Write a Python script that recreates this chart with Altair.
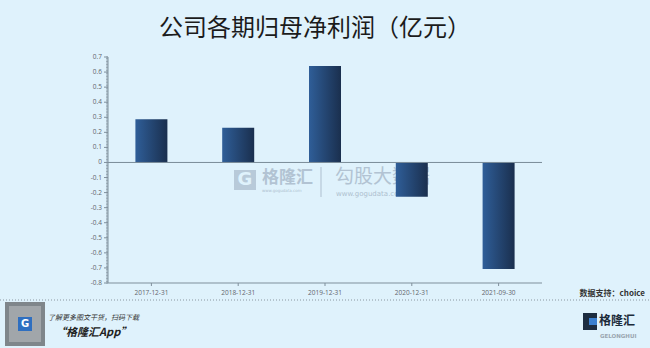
import altair as alt
import pandas as pd
import numpy as np

# ---- data ----
periods = ["2017-12-31", "2018-12-31", "2019-12-31", "2020-12-31", "2021-09-30"]
profits = [0.287, 0.231, 0.64, -0.227, -0.707]
y_major = [-0.8, -0.7, -0.6, -0.5, -0.4, -0.3, -0.2, -0.1, 0, 0.1, 0.2, 0.3, 0.4, 0.5, 0.6, 0.7]
y_labels = ["-0.8", "-0.7", "-0.6", "-0.5", "-0.4", "-0.3", "-0.2", "-0.1", "0",
            "0.1", "0.2", "0.3", "0.4", "0.5", "0.6", "0.7"]
y_minor = [round(v, 2) for v in np.arange(-80, 71) / 100.0]

title_text = "公司各期归母净利润（亿元）"
source_text = "数据支持：choice"
footer_line1 = "了解更多图文干货，扫码下载"
footer_line2 = "“格隆汇App”"

BG = "#dff2fc"
W, H = 434, 226
L, T = 108, 57

df = pd.DataFrame({"period": periods, "profit": profits})
AX = "#7f8f9b"
LAB = "#5f666c"

grad = alt.Gradient(
    gradient="linear",
    stops=[alt.GradientStop(color="#2f5e98", offset=0),
           alt.GradientStop(color="#1a2f4e", offset=1)],
    x1=0, x2=1, y1=0, y2=0,
)

yscale = alt.Scale(domain=[-0.8, 0.7], nice=False, zero=False)
xscale = alt.Scale(domain=periods, paddingInner=0, paddingOuter=0)

def txt(s, x, y, size, color="#222", weight="normal", style="normal",
        align="center", font="Noto Sans CJK SC", opacity=1.0, baseline="middle"):
    return alt.Chart(pd.DataFrame({"t": [s]})).mark_text(
        fontSize=size, color=color, fontWeight=weight, fontStyle=style,
        align=align, baseline=baseline, font=font, opacity=opacity,
    ).encode(x=alt.value(x - L), y=alt.value(y - T), text="t:N")

def rect(x, x2, y, y2, color, opacity=1.0):
    return alt.Chart(pd.DataFrame({"a": [0]})).mark_rect(color=color, opacity=opacity).encode(
        x=alt.value(x - L), x2=alt.value(x2 - L), y=alt.value(y - T), y2=alt.value(y2 - T))

def rule(x, x2, y, y2, color, width=1, dash=None):
    kw = dict(color=color, strokeWidth=width)
    if dash:
        kw["strokeDash"] = dash
    return alt.Chart(pd.DataFrame({"a": [0]})).mark_rule(**kw).encode(
        x=alt.value(x - L), x2=alt.value(x2 - L), y=alt.value(y - T), y2=alt.value(y2 - T))

wm = "#aebfcf"
watermark = [
    rect(234, 256, 170, 190, wm, 0.8),
    txt("G", 245, 180, 18, BG, weight="bold", font="DejaVu Sans"),
    txt("格隆汇", 262, 178, 17, wm, align="left", weight="bold", opacity=0.9),
    txt("www.gogudata.com", 262, 191, 4, wm, align="left", font="DejaVu Sans"),
    rule(321, 321, 167, 197, wm, 1),
    txt("勾股大数据", 335, 177, 19, wm, align="left", opacity=0.9),
    txt("www.gogudata.com", 336, 194, 7, wm, align="left", font="DejaVu Sans"),
]

bars = alt.Chart(df).mark_bar(color=grad, size=32).encode(
    x=alt.X("period:N", sort=periods, title=None, scale=xscale, axis=None),
    y=alt.Y("profit:Q", title=None, scale=yscale, axis=None),
)

# y axis drawn from its tick arrays through the shared y scale
ydf = pd.DataFrame({"v": y_major, "lab": y_labels})
y_ticks = alt.Chart(ydf).mark_rule(color=AX, strokeWidth=1).encode(
    y=alt.Y("v:Q", scale=yscale, axis=None), x=alt.value(-4), x2=alt.value(0))
y_text = alt.Chart(ydf).mark_text(align="right", baseline="middle", fontSize=6.5,
                                  color=LAB, font="Open Sans").encode(
    y=alt.Y("v:Q", scale=yscale, axis=None), x=alt.value(-6), text="lab:N")
minor = alt.Chart(pd.DataFrame({"m": y_minor})).mark_rule(color=AX, strokeWidth=0.7).encode(
    y=alt.Y("m:Q", scale=yscale, axis=None), x=alt.value(-2), x2=alt.value(0))
y_domain = alt.Chart(pd.DataFrame({"a": [0]})).mark_rule(color=AX, strokeWidth=1).encode(
    x=alt.value(0), y=alt.value(0), y2=alt.value(H))

# x axis drawn from the category array through the shared x scale
xdf = pd.DataFrame({"period": periods})
x_ticks = alt.Chart(xdf).mark_rule(color=AX, strokeWidth=1).encode(
    x=alt.X("period:N", scale=xscale, axis=None, sort=periods),
    y=alt.value(H), y2=alt.value(H + 3))
x_text = alt.Chart(xdf).mark_text(align="center", baseline="middle", fontSize=6.5,
                                  color=LAB, font="Open Sans").encode(
    x=alt.X("period:N", scale=xscale, axis=None, sort=periods),
    y=alt.value(H + 10), text="period:N")
x_domain = alt.Chart(pd.DataFrame({"a": [0]})).mark_rule(color=AX, strokeWidth=1).encode(
    y=alt.value(H), x=alt.value(0), x2=alt.value(W))

zero = alt.Chart(pd.DataFrame({"z": [0]})).mark_rule(color="#7a8c98", strokeWidth=1).encode(
    y=alt.Y("z:Q", axis=None, scale=yscale), x=alt.value(0), x2=alt.value(W))

deco = [
    txt(title_text, 315, 29, 24, "#1b1b1b"),
    txt(source_text, 645, 294, 8, "#333", weight="bold", align="right"),
    rule(0, 650, 300, 300, "#8a96a0", 1, [1, 2]),
    rect(5, 45, 302, 346, "#6f7377", 0.85),
    rect(9, 41, 306, 342, "#b8bcc0", 0.6),
    rect(18, 32, 317, 331, "#2f6fc0"),
    txt("G", 25, 324, 10, "#ffffff", weight="bold", font="DejaVu Sans"),
    txt(footer_line1, 48, 318, 7, "#333", style="italic", align="left"),
    txt(footer_line2, 55, 333, 11, "#222", weight="bold", style="italic", align="left"),
    rect(583, 597, 313, 330, "#1c2c40"),
    rect(589, 597, 318, 325, "#3a7fd0"),
    txt("格隆汇", 599, 321, 12, "#1c2b3a", weight="bold", align="left"),
    txt("GELONGHUI", 600, 336, 5.5, "#9aa6b0", weight="bold", align="left", font="DejaVu Sans"),
]

chart = alt.layer(*watermark, bars, zero, y_domain, minor, y_ticks, y_text,
                  x_domain, x_ticks, x_text, *deco).properties(
    width=W, height=H,
    autosize=alt.AutoSizeParams(type="none"),
    padding={"left": L, "top": T, "right": 650 - L - W, "bottom": 348 - T - H},
    background=BG,
).configure_view(strokeWidth=0)

chart.save("out.html", embed_options={"renderer": "svg", "actions": False})
